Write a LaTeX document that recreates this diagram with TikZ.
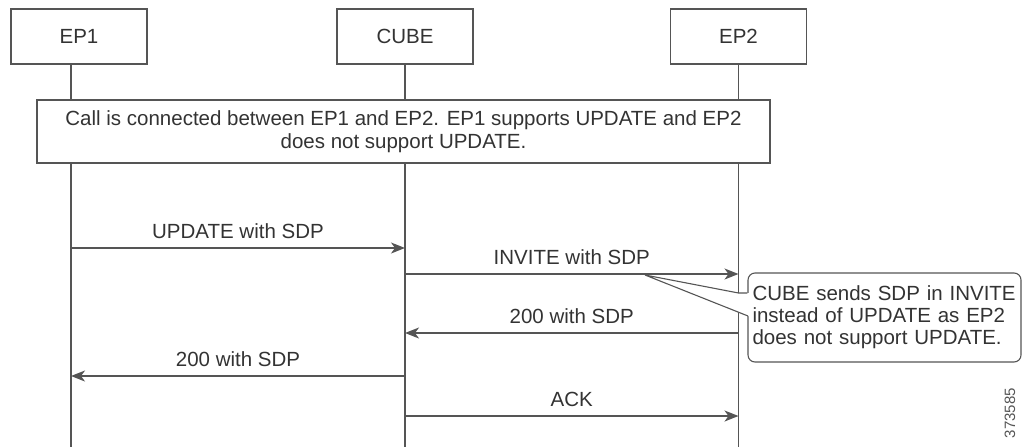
\documentclass[tikz,border=0pt]{standalone}
\usepackage{fontspec}
\setmainfont{Liberation Sans}
\usetikzlibrary{arrows.meta}
\definecolor{ln}{HTML}{555555}
\definecolor{tx}{HTML}{333333}
\begin{document}
\begin{tikzpicture}[x=1pt,y=-1pt,
    ent/.style={draw=ln, line width=1.4pt, fill=white, minimum width=136pt, minimum height=55pt, inner sep=0pt, text=tx, font=\fontsize{20.5}{23}\selectfont},
    life/.style={draw=ln, line width=1.4pt},
    msg/.style={draw=ln, line width=1.4pt, -{Stealth[length=14pt, width=11pt, inset=4pt]}},
    lbl/.style={text=tx, font=\fontsize{20.5}{23}\selectfont, inner sep=0pt, above=9pt}]
    \useasboundingbox (0,0) rectangle (1024,447);

    % entities
    \node[ent] (E1) at (79,36.5) {EP1};
    \node[ent] (CU) at (405,36.5) {CUBE};
    \node[ent] (E2) at (738.5,36.5) {EP2};

    % lifelines
    \coordinate (E1t) at (71,64);   \coordinate (E1b) at (71,447);
    \coordinate (CUt) at (405,64);  \coordinate (CUb) at (405,447);
    \coordinate (E2t) at (738.5,64);  \coordinate (E2b) at (738.5,447);
    \draw[life] (E1t)--(E1b);
    \draw[life] (CUt)--(CUb);
    \draw[life] (E2t)--(E2b);

    % note across all
    \node[ent, minimum width=733pt, minimum height=63pt, align=center] (NT) at (403.5,131.5)
        {Call is connected between EP1 and EP2. EP1 supports UPDATE and EP2\\does not support UPDATE.};

    % message end points
    \coordinate (m1a) at (71,248);    \coordinate (m1b) at (405,248);
    \coordinate (m2a) at (405,274);   \coordinate (m2b) at (738.5,274);
    \coordinate (m3a) at (738.5,333); \coordinate (m3b) at (405,333);
    \coordinate (m4a) at (405,376);   \coordinate (m4b) at (71,376);
    \coordinate (m5a) at (405,416);   \coordinate (m5b) at (738.5,416);

    \draw[msg] (m1a)--(m1b) node[lbl, midway] {UPDATE with SDP};
    \draw[msg] (m2a)--(m2b) node[lbl, midway] {INVITE with SDP};
    \draw[msg] (m3a)--(m3b) node[lbl, midway] {200 with SDP};
    \draw[msg] (m4a)--(m4b) node[lbl, midway] {200 with SDP};
    \draw[msg] (m5a)--(m5b) node[lbl, midway] {ACK};

    % callout
    \node[draw=ln, line width=1.1pt, fill=white, rounded corners=7pt, minimum width=273pt, minimum height=89pt,
          text width=264pt, align=left, inner sep=4pt, text=tx, font=\fontsize{20.5}{22}\selectfont] (CO) at (884.5,317.5)
        {CUBE sends SDP in INVITE\\instead of UPDATE as EP2\\does not support UPDATE.};
    \coordinate (tip) at (645,275);
    \coordinate (w1) at (738.5,293);
    \coordinate (w2) at (748,316);
    \fill[white] (w1)--(tip)--(w2)--(748.9,316)--(748.9,293)--cycle;
    \draw[draw=ln, line width=1.1pt] (CO.west |- w1)--(w1)--(tip)--(w2);

    \node[rotate=90, text=ln, font=\fontsize{15}{16}\selectfont, inner sep=0pt] (ID) at (1010,413) {373585};
\end{tikzpicture}
\end{document}
